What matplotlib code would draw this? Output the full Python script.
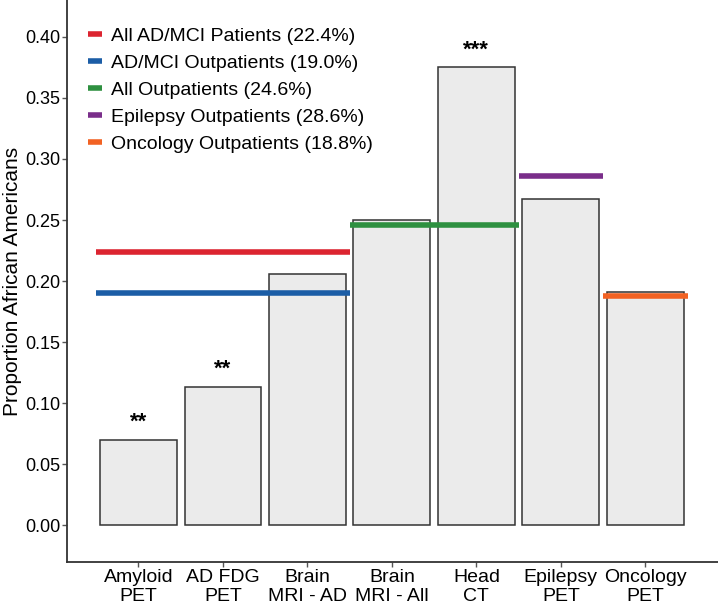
import matplotlib.pyplot as plt

plt.rcParams['font.family'] = ['Liberation Sans', 'DejaVu Sans']

categories = ["Amyloid\nPET", "AD FDG\nPET", "Brain\nMRI - AD", "Brain\nMRI - All",
              "Head\nCT", "Epilepsy\nPET", "Oncology\nPET"]
proportions = [0.070, 0.113, 0.206, 0.250, 0.375, 0.267, 0.191]
stars = ["**", "**", "", "", "***", "", ""]

# reference rates: label, value, first and last category covered
ref_labels = ["All AD/MCI Patients (22.4%)", "AD/MCI Outpatients (19.0%)",
              "All Outpatients (24.6%)", "Epilepsy Outpatients (28.6%)",
              "Oncology Outpatients (18.8%)"]
ref_values = [0.224, 0.190, 0.246, 0.286, 0.188]
ref_first = [0, 0, 3, 5, 6]
ref_last = [2, 2, 4, 5, 6]
ref_colors = ["#DC2430", "#1B5DA6", "#2E9040", "#7A2E8A", "#F26223"]

fig = plt.figure(figsize=(7.18, 6.04), dpi=100)
ax = fig.add_axes([0.0933, 0.0695, 0.9067, 0.9305])

x = list(range(1, len(categories) + 1))
ax.bar(x, proportions, width=0.91, color="#EBEBEB", edgecolor="#333333", linewidth=1.1, zorder=2)

for xi, val, s in zip(x, proportions, stars):
    if s:
        ax.text(xi, val + 0.010, s, ha="center", va="baseline", fontsize=16,
                fontweight="bold", color="black")

for lab, val, a, b, col in zip(ref_labels, ref_values, ref_first, ref_last, ref_colors):
    ax.hlines(val, x[a] - 0.5, x[b] + 0.5, colors=col, linewidth=4, label=lab, zorder=3)

leg = ax.legend(loc="upper left", bbox_to_anchor=(0.02, 0.965), frameon=False,
                fontsize=14, handlelength=0.75, handletextpad=0.45, labelspacing=0.48,
                borderaxespad=0)
for h in leg.legend_handles:
    h.set_linewidth(4)

ax.set_xlim(0.154, 7.86)
ax.set_ylim(-0.0303, 0.4303)
ax.set_xticks(x)
ax.set_xticklabels(categories, fontsize=14, color="black", linespacing=1.15)
ax.set_yticks([0.0, 0.05, 0.10, 0.15, 0.20, 0.25, 0.30, 0.35, 0.40])
ax.set_yticklabels(["0.00", "0.05", "0.10", "0.15", "0.20", "0.25", "0.30", "0.35", "0.40"],
                   fontsize=13, color="black")
ax.tick_params(axis="both", length=3.5, width=1, color="#555555", pad=1.5)
ax.set_ylabel("Proportion African Americans", fontsize=15)
ax.yaxis.set_label_coords(-0.069, 0.5)

for side in ["top", "right"]:
    ax.spines[side].set_visible(False)
for side in ["left", "bottom"]:
    ax.spines[side].set_color("#333333")
    ax.spines[side].set_linewidth(1.3)

fig.savefig("out.png", dpi=100)
